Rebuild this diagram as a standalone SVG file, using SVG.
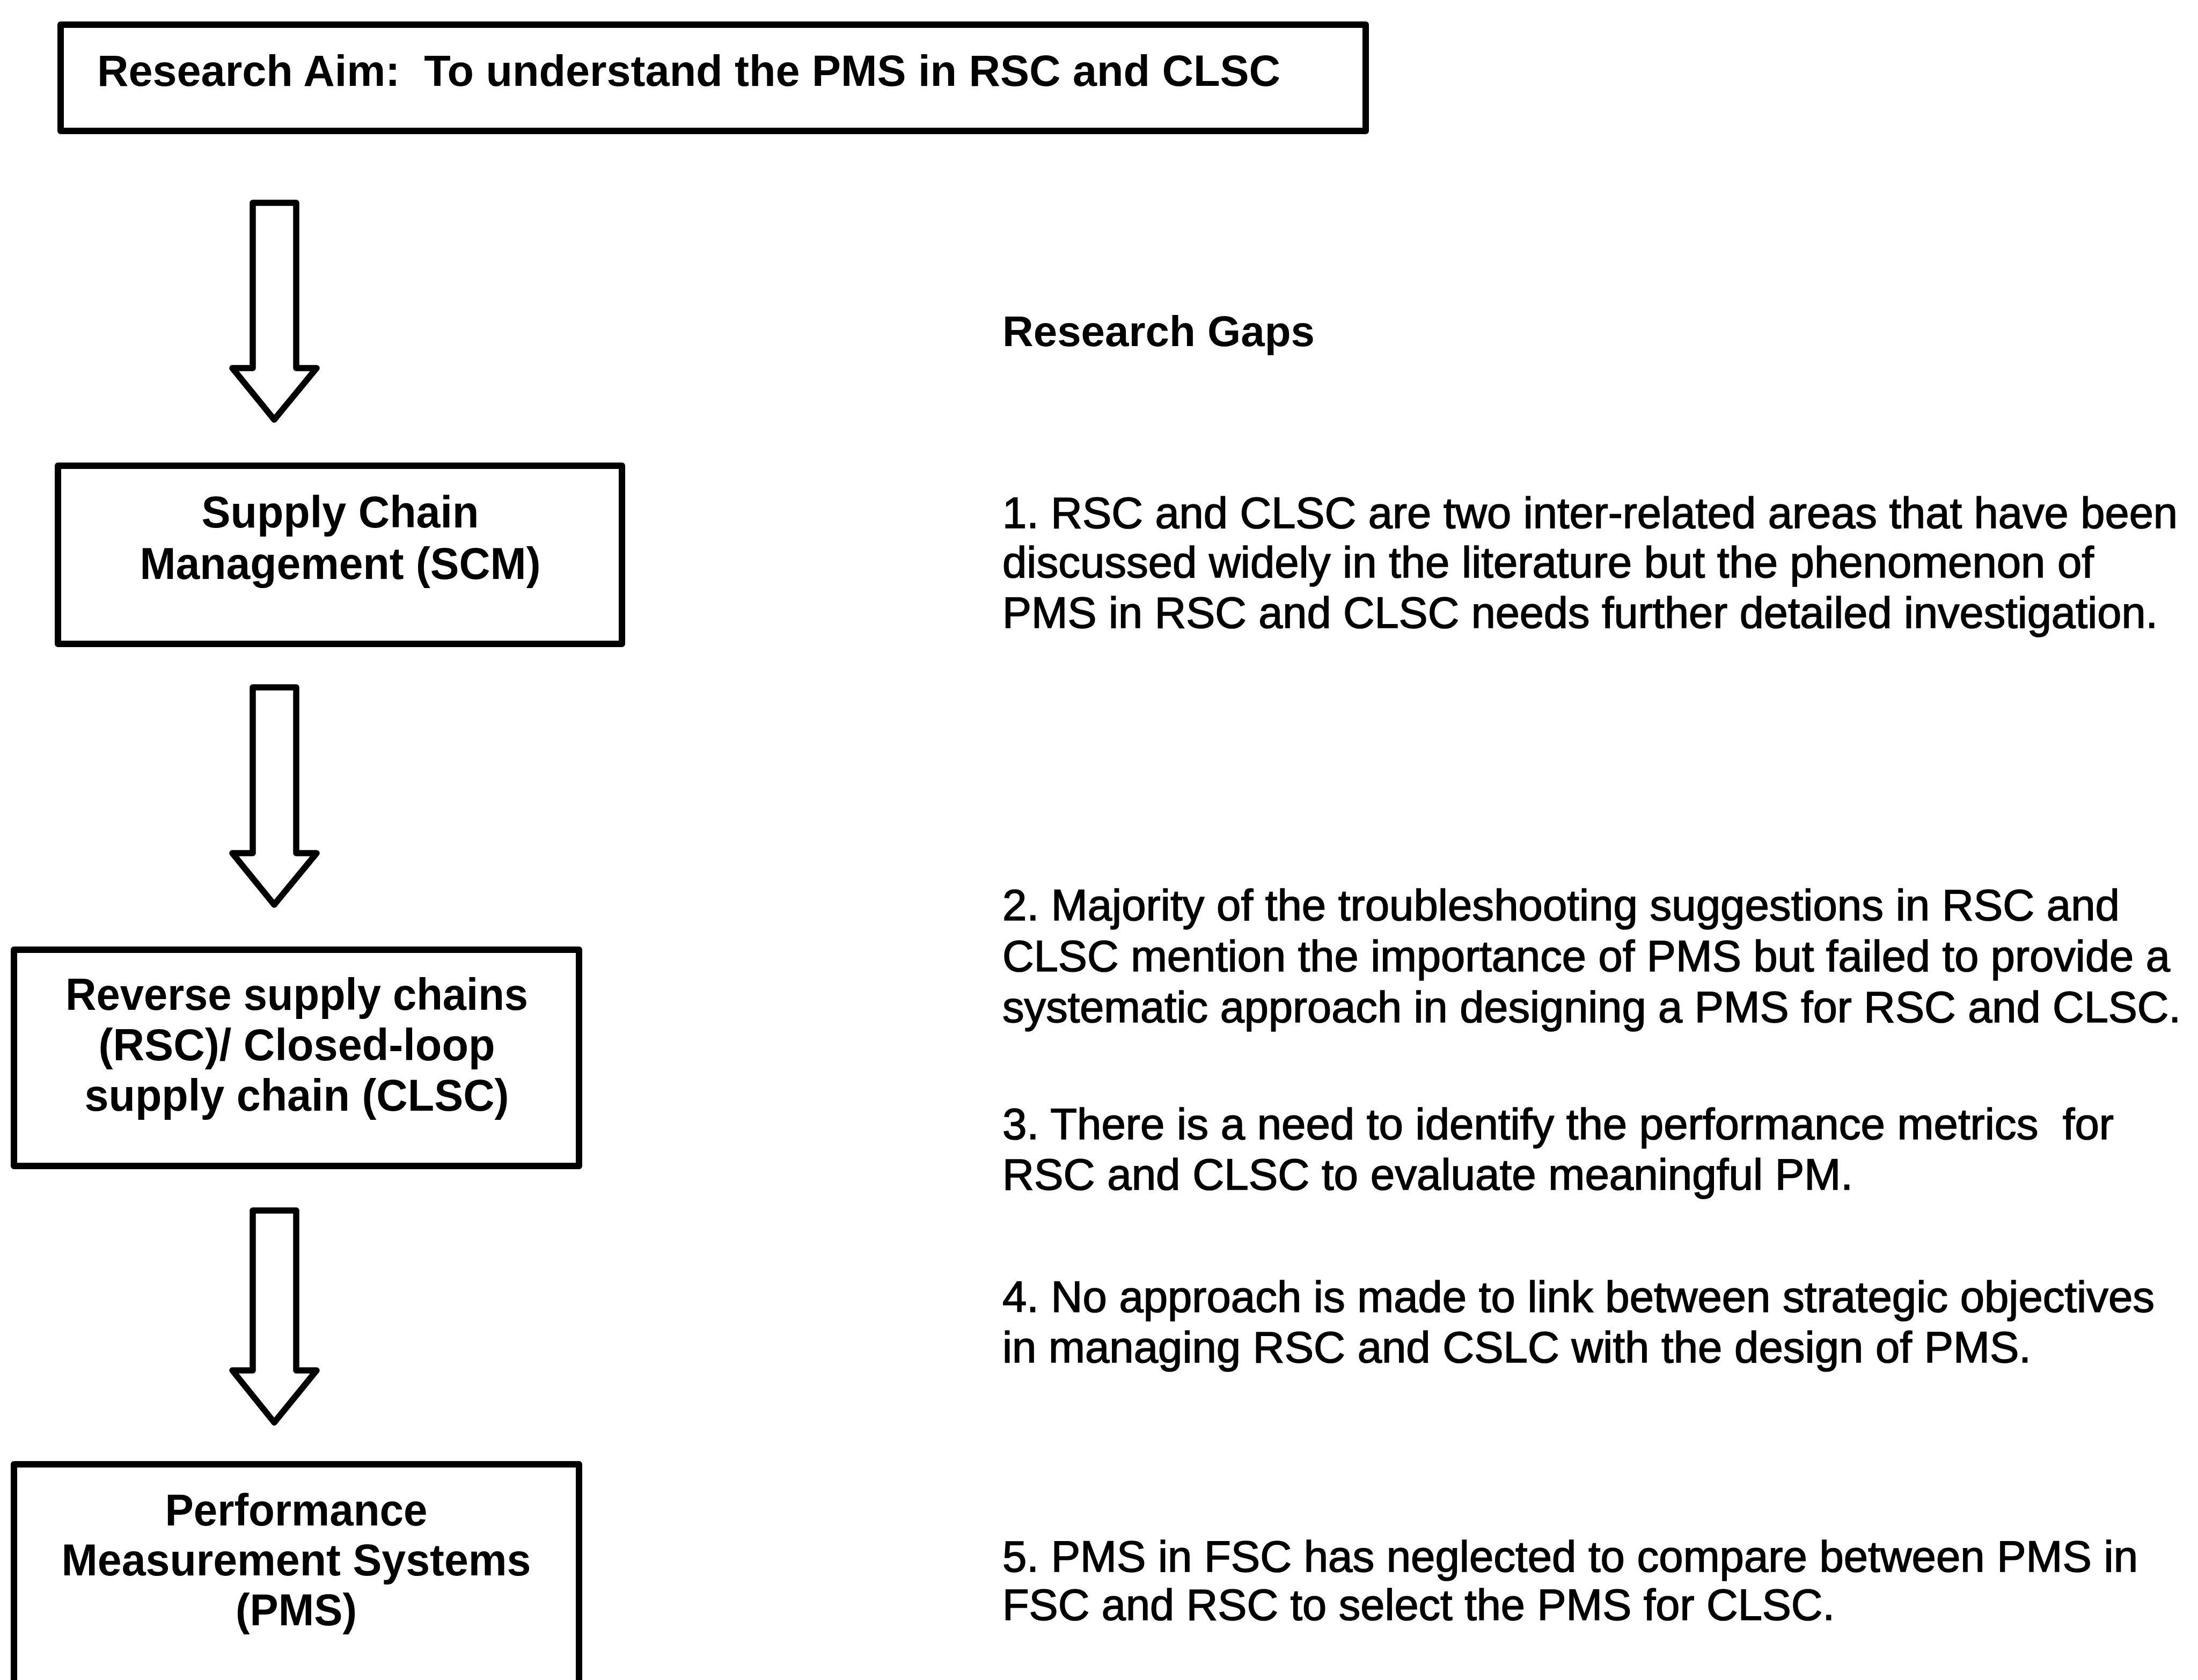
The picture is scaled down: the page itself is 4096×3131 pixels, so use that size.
<svg xmlns="http://www.w3.org/2000/svg" width="4096" height="3131" viewBox="0 0 4096 3131">
<style>
.box{fill:#fff;stroke:#000;stroke-width:12;stroke-linejoin:round}
.arr{fill:#fff;stroke:#000;stroke-width:11.5;stroke-linejoin:round}
.bt{font-family:"Liberation Sans",Arial,sans-serif;font-weight:bold;font-size:84px;fill:#000;text-anchor:middle}
.tt{font-family:"Liberation Sans",Arial,sans-serif;font-weight:bold;font-size:81px;fill:#000;white-space:pre}
.rt{font-family:"Liberation Sans",Arial,sans-serif;font-size:81.5px;fill:#000;stroke:#000;stroke-width:1.6;white-space:pre}
.rh{font-family:"Liberation Sans",Arial,sans-serif;font-weight:bold;font-size:80px;fill:#000}
</style>
<rect width="4096" height="3131" fill="#fff"/>
<g id="aim">
<rect class="box" x="113" y="46" width="2432" height="198"/>
<text class="tt" x="181" y="160" textLength="2205" lengthAdjust="spacingAndGlyphs" xml:space="preserve">Research Aim:  To understand the PMS in RSC and CLSC</text>
</g>
<g id="connectors">
<path class="arr" d="M471,378 L552,378 L552,686 L590,686 L511,782 L433,686 L471,686 Z"/>
<path class="arr" d="M471,1281 L552,1281 L552,1590 L590,1590 L511,1686 L433,1590 L471,1590 Z"/>
<path class="arr" d="M471,2256 L552,2256 L552,2554 L590,2554 L511,2651 L433,2554 L471,2554 Z"/>
</g>
<g id="scm">
<rect class="box" x="108" y="868" width="1051" height="332"/>
<text class="bt" x="634" y="983" textLength="517" lengthAdjust="spacingAndGlyphs">Supply Chain</text>
<text class="bt" x="634" y="1079" textLength="747" lengthAdjust="spacingAndGlyphs">Management (SCM)</text>
</g>
<g id="rsc">
<rect class="box" x="26" y="1770" width="1053" height="403"/>
<text class="bt" x="553" y="1882" textLength="862" lengthAdjust="spacingAndGlyphs">Reverse supply chains</text>
<text class="bt" x="553" y="1976" textLength="739" lengthAdjust="spacingAndGlyphs">(RSC)/ Closed-loop</text>
<text class="bt" x="553" y="2070" textLength="791" lengthAdjust="spacingAndGlyphs">supply chain (CLSC)</text>
</g>
<g id="pms">
<rect class="box" x="26" y="2729" width="1053" height="500"/>
<text class="bt" x="552" y="2843" textLength="489" lengthAdjust="spacingAndGlyphs">Performance</text>
<text class="bt" x="552" y="2936" textLength="875" lengthAdjust="spacingAndGlyphs">Measurement Systems</text>
<text class="bt" x="552" y="3029" textLength="226" lengthAdjust="spacingAndGlyphs">(PMS)</text>
</g>
<g id="gaps">
<text class="rh" x="1868" y="645" textLength="582" lengthAdjust="spacingAndGlyphs">Research Gaps</text>
<text class="rt" x="1868" y="984" textLength="2190" lengthAdjust="spacingAndGlyphs">1. RSC and CLSC are two inter-related areas that have been</text>
<text class="rt" x="1868" y="1076" textLength="2034" lengthAdjust="spacingAndGlyphs">discussed widely in the literature but the phenomenon of</text>
<text class="rt" x="1868" y="1170" textLength="2153" lengthAdjust="spacingAndGlyphs">PMS in RSC and CLSC needs further detailed investigation.</text>
<text class="rt" x="1868" y="1715" textLength="2082" lengthAdjust="spacingAndGlyphs">2. Majority of the troubleshooting suggestions in RSC and</text>
<text class="rt" x="1868" y="1810" textLength="2176" lengthAdjust="spacingAndGlyphs">CLSC mention the importance of PMS but failed to provide a</text>
<text class="rt" x="1868" y="1905" textLength="2196" lengthAdjust="spacingAndGlyphs">systematic approach in designing a PMS for RSC and CLSC.</text>
<text class="rt" x="1868" y="2123" textLength="2071" lengthAdjust="spacingAndGlyphs" xml:space="preserve">3. There is a need to identify the performance metrics  for</text>
<text class="rt" x="1868" y="2217" textLength="1585" lengthAdjust="spacingAndGlyphs">RSC and CLSC to evaluate meaningful PM.</text>
<text class="rt" x="1868" y="2445" textLength="2147" lengthAdjust="spacingAndGlyphs">4. No approach is made to link between strategic objectives</text>
<text class="rt" x="1868" y="2539" textLength="1917" lengthAdjust="spacingAndGlyphs">in managing RSC and CSLC with the design of PMS.</text>
<text class="rt" x="1868" y="2929" textLength="2116" lengthAdjust="spacingAndGlyphs">5. PMS in FSC has neglected to compare between PMS in</text>
<text class="rt" x="1868" y="3019" textLength="1551" lengthAdjust="spacingAndGlyphs">FSC and RSC to select the PMS for CLSC.</text>
</g>
</svg>
